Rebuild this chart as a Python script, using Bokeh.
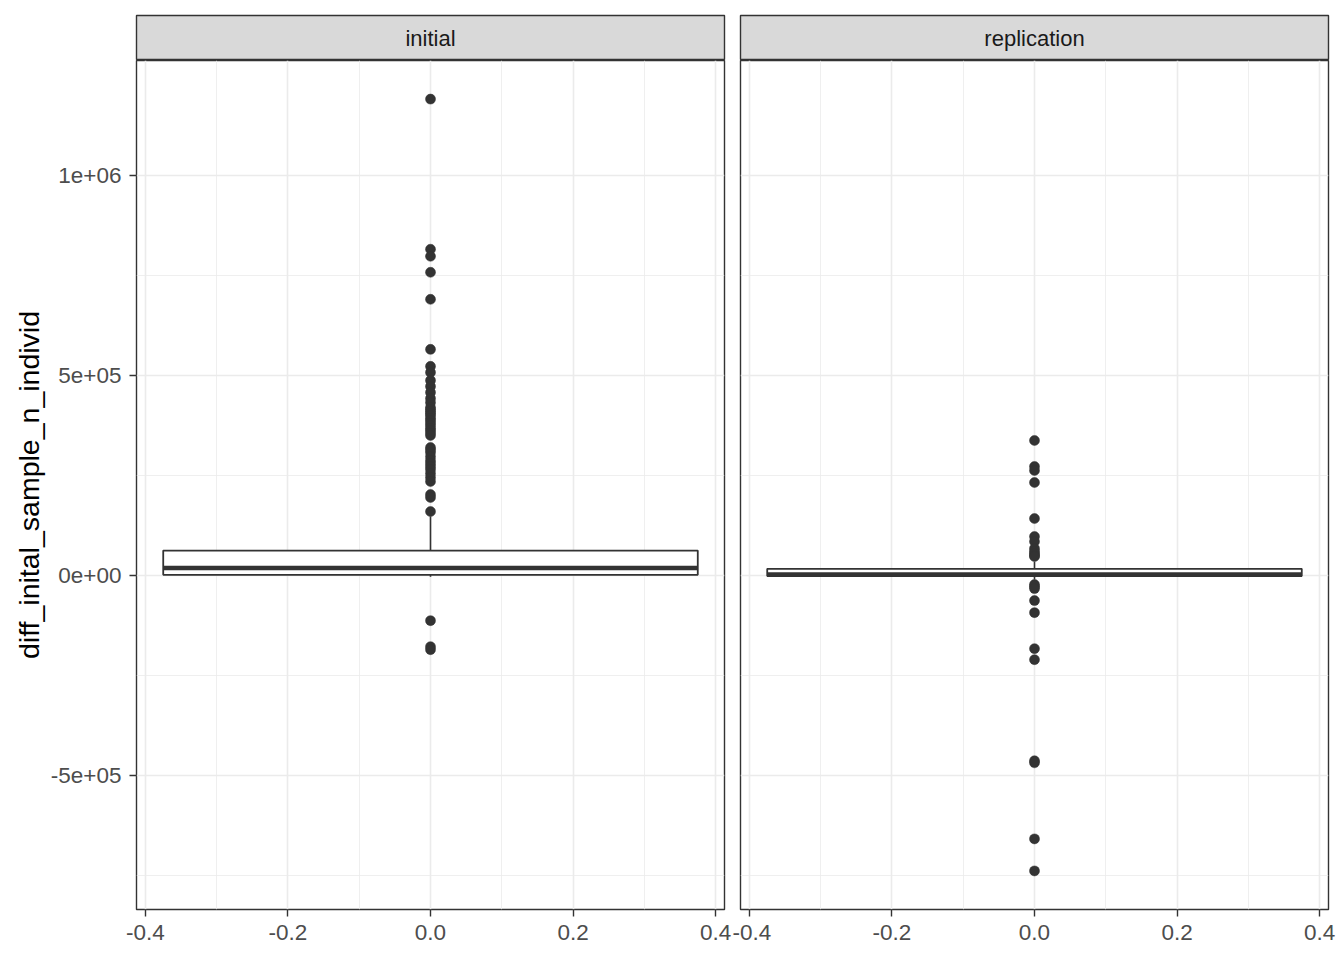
from bokeh.plotting import figure
from bokeh.models import Range1d, FixedTicker, PrintfTickFormatter, CustomJSTickFormatter, ColumnDataSource
from bokeh.layouts import row, column
from bokeh.embed import file_html
from bokeh.resources import INLINE
from bokeh.core.properties import value

# ---------------- data ----------------
facets = ["initial", "replication"]

# box-plot statistics per facet
q1 = [2000, -1000]
median = [18750, 3000]
q3 = [62500, 17000]
whisker_low = [-3000, -10000]
whisker_high = [148000, 35000]

outliers_initial = [1190000, 815000, 797500, 757500, 690000, 565000, 522500, 507500,
                    487500, 472500, 457500, 442500, 432000, 420000, 415000, 410000,
                    405000, 400000, 393000, 387500, 381000, 375000, 368000, 362500,
                    356000, 350000, 320000, 314000, 307500, 297000, 287500, 280000,
                    272500, 265000, 255000, 245000, 235000, 202500, 195000, 160000,
                    -112500, -177500, -185000]
outliers_replication = [337500, 272500, 262500, 232500, 142500, 97500, 85000, 67500,
                        60000, 55000, 50000, 47500, -22500, -27500, -32500, -62500,
                        -92500, -182500, -210000, -462500, -467500, -657500, -737500]
outliers = [outliers_initial, outliers_replication]

x_ticks = [-0.4, -0.2, 0.0, 0.2, 0.4]
x_minor = [-0.3, -0.1, 0.1, 0.3]
y_ticks = [-500000, 0, 500000, 1000000]
y_minor = [-750000, -250000, 250000, 750000]
y_tick_labels = ["-5e+05", "0e+00", "5e+05", "1e+06"]
y_title = "diff_inital_sample_n_individ"

# ---------------- scales (ggplot-like 5% expansion) ----------------
box_half = 0.375
xpad = 2 * box_half * 0.05
x_lo, x_hi = -box_half - xpad, box_half + xpad
all_vals = [v for o in outliers for v in o] + whisker_low + whisker_high
ymin, ymax = min(all_vals), max(all_vals)
ypad = (ymax - ymin) * 0.05
y_lo, y_hi = ymin - ypad, ymax + ypad

FONT = "Liberation Sans"
BORDER = "#333333"
GRID = "#EBEBEB"

widths = [732, 604]
left_borders = [136, 8]


def make_strip(i):
    s = figure(width=widths[i], height=60, x_range=Range1d(x_lo, x_hi), y_range=Range1d(0, 1),
               output_backend="svg", toolbar_location=None,
               x_axis_location=None, y_axis_location=None,
               min_border_left=left_borders[i], min_border_right=8,
               min_border_top=15, min_border_bottom=0)
    s.grid.visible = False
    s.background_fill_color = "#D9D9D9"
    s.border_fill_color = "white"
    s.outline_line_color = BORDER
    s.outline_line_width = 1.4
    s.text(x=[0], y=[0.48], text=[facets[i]], text_align="center", text_baseline="middle",
           text_font=value(FONT), text_font_size="22px", text_color="#1A1A1A")
    return s


def make_panel(i):
    p = figure(width=widths[i], height=888, x_range=Range1d(x_lo, x_hi), y_range=Range1d(y_lo, y_hi),
               output_backend="svg", toolbar_location=None,
               y_axis_location="left" if i == 0 else None,
               min_border_left=left_borders[i], min_border_right=8,
               min_border_top=0, min_border_bottom=39)
    p.background_fill_color = "white"
    p.border_fill_color = "white"
    p.outline_line_color = BORDER
    p.outline_line_width = 1.4

    xt = FixedTicker(ticks=x_ticks, minor_ticks=x_minor)
    yt = FixedTicker(ticks=y_ticks, minor_ticks=y_minor)
    for g in p.xgrid:
        g.ticker = xt
    for g in p.ygrid:
        g.ticker = yt
    p.grid.grid_line_color = GRID
    p.grid.grid_line_width = 1.6
    p.grid.minor_grid_line_color = GRID
    p.grid.minor_grid_line_width = 0.8

    p.xaxis.ticker = xt
    p.xaxis.formatter = PrintfTickFormatter(format="%.1f")
    p.xaxis.major_label_standoff = 8
    if i == 0:
        p.yaxis.ticker = yt
        p.yaxis.formatter = CustomJSTickFormatter(
            args=dict(vals=y_ticks, labs=y_tick_labels),
            code="const k = vals.findIndex(v => Math.abs(v - tick) < 1e-6); return k >= 0 ? labs[k] : '';")
        p.yaxis.axis_label = y_title
        p.yaxis.axis_label_text_font = FONT
        p.yaxis.axis_label_text_font_size = "28.5px"
        p.yaxis.axis_label_text_font_style = "normal"
        p.yaxis.axis_label_text_color = "black"
        p.yaxis.axis_label_standoff = 3
        p.yaxis.major_label_standoff = 8
    axes = list(p.xaxis) + (list(p.yaxis) if i == 0 else [])
    for ax in axes:
        ax.axis_line_color = None
        ax.major_tick_line_color = BORDER
        ax.major_tick_line_width = 1.4
        ax.major_tick_out = 7
        ax.major_tick_in = 0
        ax.minor_tick_line_color = None
        ax.major_label_text_font = FONT
        ax.major_label_text_font_size = "22.5px"
        ax.major_label_text_color = "#4D4D4D"

    # box
    src = ColumnDataSource(dict(x=[0.0], left=[-box_half], right=[box_half],
                                q1=[q1[i]], q3=[q3[i]], med=[median[i]],
                                lo=[whisker_low[i]], hi=[whisker_high[i]]))
    p.segment(x0="x", y0="q3", x1="x", y1="hi", source=src, line_color=BORDER, line_width=1.6)
    p.segment(x0="x", y0="q1", x1="x", y1="lo", source=src, line_color=BORDER, line_width=1.6)
    p.quad(left="left", right="right", bottom="q1", top="q3", source=src,
           fill_color="white", line_color=BORDER, line_width=1.8)
    p.segment(x0="left", y0="med", x1="right", y1="med", source=src, line_color=BORDER, line_width=4.5)

    # outliers
    p.scatter(x=[0.0] * len(outliers[i]), y=outliers[i], size=10, marker="circle",
              fill_color=BORDER, line_color=BORDER, line_width=0.5)
    return p


layout = row(column(make_strip(0), make_panel(0)), column(make_strip(1), make_panel(1)))

open("out.html", "w").write(file_html(layout, INLINE))
